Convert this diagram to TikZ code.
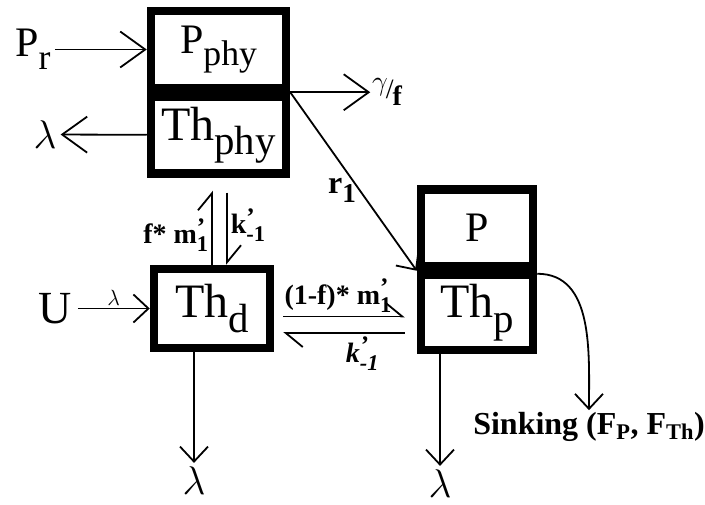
\RequirePackage{fix-cm}
\documentclass[tikz,border=0pt]{standalone}
\usepackage{fontspec}
\setmainfont{Liberation Serif}
\usepackage{graphicx}
\usetikzlibrary{arrows.meta, positioning, calc}
\newcommand{\lo}[1]{\raisebox{-0.3em}{\scalebox{0.85}{#1}}}
\newcommand{\ps}[2]{\rlap{\raisebox{0.3em}{\scalebox{0.9}{#1}}}\raisebox{-0.3em}{\scalebox{0.8}{#2}}}

\begin{document}
\begin{tikzpicture}[
  x=1pt, y=-1pt,
  >={Straight Barb[length=15pt, width=28pt]},
  box/.style={draw, line width=8.5pt, inner sep=0pt, minimum width=135pt, minimum height=77pt},
  big/.style={font=\fontsize{48}{52}\selectfont},
  mid/.style={font=\fontsize{42}{46}\selectfont},
  greek/.style={font=\fontsize{40}{44}\selectfont, inner sep=4pt},
  lab/.style={font=\bfseries\fontsize{28}{30}\selectfont, inner sep=3pt},
  arr/.style={->, line width=1.8pt},
  bigarr/.style={-{Straight Barb[length=25pt, width=36pt]}, line width=1.8pt},
  harp/.style={-{Straight Barb[left, length=17pt, width=28pt]}, line width=1.8pt},
  ]
\useasboundingbox (0,0) rectangle (705,505);

\node[box, mid] (Pphy) at (218.5,49.5) {P\lo{phy}};
\node[box, big, below=0pt of Pphy] (Thphy) {Th\lo{phy}};
\node[box, big, minimum width=116pt, minimum height=79pt] (Thd) at (212,308.5) {Th\lo{d}};
\node[box, mid, minimum width=112pt, minimum height=77pt] (Pp) at (477,228) {P};
\node[box, big, below=0pt of Pp, minimum width=112pt, minimum height=75pt] (Thp) {Th\lo{p}};

\node[font=\fontsize{42}{46}\selectfont, inner sep=4pt] (Pr) at (33,49.5) {P\lo{r}};
\node[greek] (lamphy) at (45,134.5) {$\lambda$};
\node[font=\fontsize{46}{50}\selectfont, inner sep=6pt] (U) at (55,308.5) {U};
\node[greek] (lamd) at (194,481) {$\lambda$};
\node[greek] (lamp) at (440,484) {$\lambda$};
\node[lab, font=\bfseries\fontsize{32}{34}\selectfont, inner sep=2pt] (sink) at (589,427) {Sinking (F\textsubscript{P}, F\textsubscript{Th})};

\draw[bigarr] (Pr) -- (Pphy);
\draw[bigarr] (Thphy) -- (lamphy);
\draw[bigarr] (Pphy.south east) -- ++(80,0)
  node[right, inner sep=1pt, font=\fontsize{28}{30}\selectfont] (gam) {\raisebox{0.3em}{$\gamma$}\kern-2pt/\kern-1pt\raisebox{-0.25em}{\bfseries f}};
\draw[arr] (Pphy.south east) -- (Pp.south west) node[pos=0.55, left, lab, font=\bfseries\fontsize{32}{34}\selectfont] (lr) {r\lo{1}};

\draw[harp] (Thd.north) -- ([yshift=74pt]Thd.north) node[pos=0.4, left, lab] (lfm) {f* m\ps{'}{1}};
\draw[harp] ([xshift=15pt, yshift=72pt]Thd.north) -- ([xshift=15pt]Thd.north) node[pos=0.45, right, lab] (lk) {k\ps{'}{-1}};
\draw[harp] ([xshift=9pt, yshift=-8pt]Thd.east) -- ([xshift=-12pt, yshift=-8pt]Thd.east -| Thp.west)
  node[pos=0.45, above, lab] (lfm2) {(1-f)* m\ps{'}{1}};
\draw[harp] ([xshift=-12pt, yshift=-24.5pt]Thd.east -| Thp.west) -- ([xshift=9pt, yshift=-24.5pt]Thd.east)
  node[pos=0.35, below, lab] (lk2) {\itshape k\ps{'}{-1}};

\draw[arr] (U) -- (Thd) node[midway, above, font=\fontsize{22}{24}\selectfont, inner sep=2pt] (lamU) {$\lambda$};
\draw[arr] (lamd |- Thd.south) -- (lamd);
\draw[arr] (lamp |- Thp.south) -- (lamp);
\draw[arr] ([yshift=-3pt]Pp.south east) to[out=0, in=90] (sink.north);
\end{tikzpicture}
\end{document}
